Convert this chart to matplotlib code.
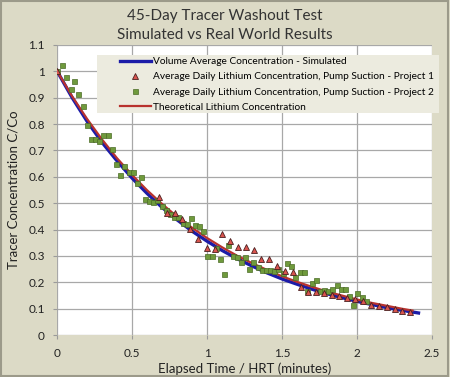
import matplotlib
matplotlib.use("Agg")
import matplotlib.pyplot as plt
from matplotlib.patches import Rectangle

plt.rcParams["font.family"] = ["Lato", "DejaVu Sans"]

# simulated volume-average curve (blue)
sim_t = [0.0, 0.1, 0.2, 0.3, 0.4, 0.5, 0.6, 0.7, 0.8, 0.9, 1.0, 1.1, 1.2,
         1.3, 1.4, 1.5, 1.6, 1.7, 1.8, 1.9, 2.0, 2.1, 2.2, 2.3, 2.41]
sim_c = [1.0, 0.90, 0.81, 0.73, 0.66, 0.595, 0.537, 0.484, 0.437, 0.394, 0.356,
         0.321, 0.290, 0.262, 0.236, 0.213, 0.193, 0.174, 0.157, 0.142, 0.128,
         0.116, 0.104, 0.094, 0.084]

# theoretical curve (red)
theo_t = [0.0, 0.1, 0.2, 0.3, 0.4, 0.5, 0.6, 0.7, 0.8, 0.9, 1.0, 1.1, 1.2,
          1.3, 1.4, 1.5, 1.6, 1.7, 1.8, 1.9, 2.0, 2.1, 2.2, 2.3, 2.37]
theo_c = [1.0, 0.905, 0.819, 0.741, 0.670, 0.607, 0.549, 0.497, 0.449, 0.407,
          0.368, 0.333, 0.301, 0.273, 0.247, 0.223, 0.202, 0.183, 0.165, 0.150,
          0.135, 0.122, 0.111, 0.100, 0.093]

# project 1 (triangles)
p1_t = [0.0, 0.682, 0.731, 0.783, 0.835, 0.887, 0.942, 0.998, 1.053, 1.102,
        1.155, 1.206, 1.259, 1.31, 1.362, 1.414, 1.468, 1.52, 1.572, 1.623,
        1.676, 1.727, 1.78, 1.831, 1.882, 1.936, 1.987, 2.038, 2.093, 2.147,
        2.198, 2.251, 2.302, 2.355]
p1_c = [1.0, 0.525, 0.464, 0.462, 0.44, 0.401, 0.366, 0.332, 0.327, 0.384,
        0.355, 0.335, 0.333, 0.321, 0.288, 0.288, 0.262, 0.242, 0.238, 0.183,
        0.164, 0.163, 0.159, 0.154, 0.147, 0.141, 0.136, 0.128, 0.116, 0.112,
        0.105, 0.099, 0.093, 0.089]

# project 2 (squares)
p2_t = [0.0, 0.031, 0.060, 0.091, 0.115, 0.142, 0.171, 0.198, 0.225, 0.253,
        0.282, 0.309, 0.338, 0.364, 0.393, 0.420, 0.449, 0.478, 0.504, 0.531,
        0.560, 0.587, 0.615, 0.642, 0.669, 0.698, 0.727, 0.753, 0.782, 0.809,
        0.838, 0.865, 0.891, 0.920, 0.947, 0.975, 1.002, 1.031, 1.060, 1.087,
        1.113, 1.142, 1.171, 1.198, 1.227, 1.253, 1.282, 1.309, 1.338, 1.364,
        1.393, 1.420, 1.449, 1.476, 1.504, 1.531, 1.558, 1.587, 1.620, 1.647,
        1.669, 1.698, 1.724, 1.753, 1.780, 1.809, 1.836, 1.864, 1.891, 1.920,
        1.947, 1.976, 2.002, 2.031, 2.058]
p2_c = [1.0, 1.025, 0.980, 0.933, 0.962, 0.913, 0.869, 0.795, 0.744, 0.744,
        0.734, 0.757, 0.757, 0.705, 0.648, 0.607, 0.640, 0.617, 0.620, 0.576,
        0.598, 0.515, 0.510, 0.506, 0.512, 0.490, 0.475, 0.460, 0.447, 0.447,
        0.426, 0.421, 0.443, 0.417, 0.413, 0.394, 0.299, 0.299, 0.332, 0.290,
        0.233, 0.340, 0.299, 0.296, 0.277, 0.296, 0.252, 0.277, 0.258, 0.245,
        0.245, 0.248, 0.243, 0.252, 0.235, 0.272, 0.262, 0.220, 0.240, 0.240,
        0.168, 0.199, 0.210, 0.166, 0.172, 0.169, 0.176, 0.191, 0.176, 0.176,
        0.150, 0.116, 0.159, 0.146, 0.131]

x_ticks = [0, 0.5, 1, 1.5, 2, 2.5]
x_labels = ["0", "0.5", "1", "1.5", "2", "2.5"]
y_ticks = [0, 0.1, 0.2, 0.3, 0.4, 0.5, 0.6, 0.7, 0.8, 0.9, 1.0, 1.1]
y_labels = ["0", "0.1", "0.2", "0.3", "0.4", "0.5", "0.6", "0.7", "0.8", "0.9", "1", "1.1"]

BG = "#dcdac6"
fig = plt.figure(figsize=(4.5, 3.77), dpi=100, facecolor=BG)
ax = fig.add_axes([0.127, 0.111, 0.833, 0.77])
ax.set_facecolor("white")

ax.plot(sim_t, sim_c, color="#1c1ca8", lw=2.4, zorder=3,
        label="Volume Average Concentration - Simulated")
ax.plot(p1_t, p1_c, ls="none", marker="^", ms=5, mfc="#d9544e", mec="#4a2020",
        mew=0.6, zorder=6,
        label="Average Daily Lithium Concentration, Pump Suction - Project 1")
ax.plot(p2_t, p2_c, ls="none", marker="s", ms=3.6, mfc="#6f9a3c", mec="#4b6b26",
        mew=0.5, zorder=5,
        label="Average Daily Lithium Concentration, Pump Suction - Project 2")
ax.plot(theo_t, theo_c, color="#b8322e", lw=1.6, zorder=4,
        label="Theoretical Lithium Concentration")

ax.set_xlim(0, 2.5)
ax.set_ylim(0, 1.1)
ax.set_xticks(x_ticks)
ax.set_xticklabels(x_labels)
ax.set_yticks(y_ticks)
ax.set_yticklabels(y_labels)
ax.grid(True, color="#a8a8a8", lw=0.9)
ax.set_axisbelow(True)
for s in ax.spines.values():
    s.set_visible(False)
ax.tick_params(length=3, color="#9a9a9a", labelsize=8.5, pad=6, labelcolor="#222222")

ax.set_xlabel("Elapsed Time / HRT (minutes)", fontsize=9.5, color="#222222", labelpad=3)
ax.set_ylabel("Tracer Concentration C/Co", fontsize=9.5, color="#222222", labelpad=6)
fig.text(0.5, 0.957, "45-Day Tracer Washout Test", ha="center", va="center",
         fontsize=11, color="#333333")
fig.text(0.5, 0.908, "Simulated vs Real World Results", ha="center", va="center",
         fontsize=11, color="#333333")

# legend backdrop sticks out past the right of the plot area, handles sit inset
ax.add_patch(Rectangle((0.107, 0.766), 0.913, 0.2, transform=ax.transAxes,
                       facecolor="#ecebdf", edgecolor="none", clip_on=False, zorder=9))
leg = ax.legend(loc="upper left", bbox_to_anchor=(0.16, 0.968),
                fontsize=7.3, frameon=False, borderpad=0.3, labelspacing=0.6,
                handlelength=3.0, handletextpad=0.2, borderaxespad=0)
leg.set_zorder(10)

fig.patches.append(Rectangle((0.002, 0.003), 0.994, 0.994, transform=fig.transFigure,
                             fill=False, edgecolor="#9c9a8a", lw=1.5))

fig.savefig("out.png", dpi=100, facecolor=BG)
